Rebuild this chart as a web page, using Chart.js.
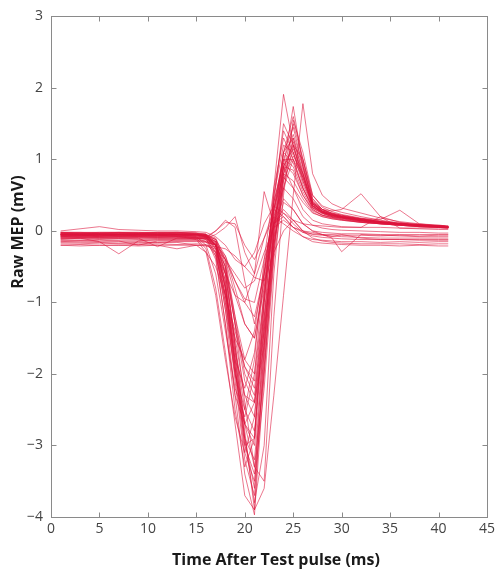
<!DOCTYPE html>
<html>
<head>
<meta charset="utf-8">
<script src="https://cdn.jsdelivr.net/npm/chart.js@4/dist/chart.umd.min.js"></script>
<style>
  html, body { margin: 0; padding: 0; background: #fff; }
  #wrap { width: 499px; height: 571px; }
</style>
</head>
<body>
<div id="wrap"><canvas id="c" width="499" height="571"></canvas></div>
<script>
// Sample times (ms)
const times = [1,3,5,7,9,11,13,15,16,17,18,19,20,21,22,23,24,25,26,27,28,29,30,32,34,36,38,40,41];

const xTicks = [0,5,10,15,20,25,30,35,40,45];
const yTicks = [-4,-3,-2,-1,0,1,2,3];
const xTitle = "Time After Test pulse (ms)";
const yTitle = "Raw MEP (mV)";

// Individual MEP traces (mV), one value per sample time
const trace01 = [-0.06,-0.05,-0.06,-0.06,-0.05,-0.06,-0.06,-0.1,-0.25,-0.8,-1.7,-2.7,-3.7,-3.9,-1.6,0.2,1.1,1.3,0.8,0.35,0.25,0.2,0.18,0.14,0.11,0.09,0.07,0.06,0.05];
const trace02 = [-0.04,-0.04,-0.05,-0.04,-0.04,-0.05,-0.04,-0.05,-0.07,-0.25,-1.1,-2.3,-3.4,-3.97,-2.0,-0.1,1.0,1.35,0.95,0.4,0.27,0.22,0.19,0.15,0.12,0.1,0.08,0.06,0.06];
const trace03 = [-0.08,-0.07,-0.08,-0.08,-0.08,-0.08,-0.08,-0.08,-0.1,-0.2,-0.6,-1.6,-2.8,-3.9,-3.6,-2.3,-0.9,0.5,1.78,0.8,0.5,0.38,0.32,0.25,0.18,0.13,0.1,0.07,0.06];
const trace04 = [-0.05,-0.05,-0.04,-0.05,-0.05,-0.05,-0.05,-0.05,-0.06,-0.15,-0.7,-1.9,-3.0,-2.9,-1.0,0.6,1.91,1.2,0.7,0.35,0.26,0.22,0.2,0.16,0.12,0.1,0.08,0.07,0.06];
const trace05 = [-0.03,-0.03,-0.04,-0.03,-0.03,-0.03,-0.04,-0.04,-0.05,-0.12,-0.5,-1.6,-2.7,-3.3,-2.0,-0.3,0.9,1.74,0.9,0.4,0.28,0.24,0.2,0.16,0.13,0.1,0.08,0.06,0.05];
const trace06 = [-0.05,-0.05,-0.05,-0.05,-0.06,-0.05,-0.05,-0.05,-0.07,-0.2,-0.9,-2.1,-3.2,-3.7,-1.8,0.0,1.1,1.6,1.0,0.45,0.3,0.24,0.21,0.17,0.13,0.1,0.08,0.07,0.06];
const trace07 = [-0.02,-0.02,-0.03,-0.02,-0.02,-0.03,-0.02,-0.03,-0.04,-0.2,-1.0,-2.0,-2.5,-1.8,-0.4,0.6,1.3,1.0,0.6,0.32,0.25,0.2,0.18,0.14,0.11,0.09,0.07,0.06,0.05];
const trace08 = [-0.06,-0.06,-0.06,-0.07,-0.06,-0.06,-0.06,-0.07,-0.08,-0.15,-0.6,-1.6,-2.5,-2.8,-1.5,0.0,0.9,1.15,0.8,0.38,0.28,0.23,0.2,0.15,0.12,0.1,0.08,0.06,0.05];
const trace09 = [-0.03,-0.04,-0.03,-0.03,-0.04,-0.03,-0.03,-0.04,-0.05,-0.1,-0.4,-1.2,-2.0,-2.3,-1.3,-0.1,0.8,1.1,0.75,0.35,0.26,0.22,0.19,0.15,0.12,0.1,0.08,0.06,0.05];
const trace10 = [-0.07,-0.07,-0.07,-0.06,-0.07,-0.07,-0.07,-0.07,-0.09,-0.25,-0.9,-1.9,-2.9,-3.2,-1.7,-0.2,0.8,1.25,0.85,0.4,0.3,0.25,0.22,0.17,0.13,0.1,0.08,0.07,0.06];
const trace11 = [-0.05,-0.05,-0.05,-0.05,-0.05,-0.05,-0.05,-0.08,-0.2,-0.6,-1.4,-2.2,-2.6,-2.0,-0.6,0.4,1.0,0.9,0.55,0.3,0.22,0.19,0.17,0.13,0.1,0.08,0.07,0.05,0.05];
const trace12 = [-0.04,-0.05,-0.04,-0.04,-0.04,-0.04,-0.05,-0.05,-0.06,-0.18,-0.75,-1.8,-2.7,-3.0,-1.6,0.1,1.1,1.45,0.9,0.42,0.3,0.24,0.21,0.16,0.13,0.1,0.08,0.07,0.06];
const trace13 = [-0.1,-0.1,-0.1,-0.1,-0.1,-0.1,-0.1,-0.1,-0.12,-0.2,-0.5,-1.3,-2.4,-3.3,-3.5,-1.2,0.5,1.55,1.1,0.5,0.33,0.27,0.23,0.18,0.14,0.11,0.09,0.08,0.07];
const trace14 = [-0.08,-0.08,-0.09,-0.08,-0.08,-0.09,-0.08,-0.09,-0.1,-0.2,-0.55,-1.3,-1.9,-2.1,-1.0,0.1,0.9,0.85,0.5,0.28,0.22,0.18,0.16,0.12,0.1,0.08,0.06,0.05,0.04];
const trace15 = [-0.02,-0.03,-0.02,-0.02,-0.03,-0.02,-0.02,-0.03,-0.1,-0.4,-1.3,-2.3,-2.7,-2.4,-0.8,0.5,1.2,1.1,0.7,0.36,0.27,0.22,0.19,0.15,0.12,0.09,0.07,0.06,0.05];
const trace16 = [-0.06,-0.06,-0.07,-0.06,-0.06,-0.06,-0.07,-0.06,-0.08,-0.2,-0.8,-1.9,-3.0,-3.4,-1.9,-0.3,0.7,1.3,0.9,0.4,0.3,0.28,0.3,0.52,0.2,0.12,0.09,0.07,0.06];
const trace17 = [-0.09,-0.09,-0.08,-0.09,-0.09,-0.09,-0.09,-0.1,-0.15,-0.35,-0.9,-1.5,-1.8,-1.4,-0.5,0.3,0.8,0.7,0.45,0.26,0.2,0.17,0.15,0.12,0.1,0.08,0.06,0.05,0.04];
const trace18 = [-0.05,-0.06,-0.05,-0.05,-0.05,-0.06,-0.05,-0.06,-0.07,-0.2,-0.8,-1.8,-2.9,-3.6,-1.3,0.4,1.5,1.2,0.75,0.38,0.28,0.23,0.2,0.16,0.12,0.1,0.08,0.06,0.05];
const trace19 = [-0.04,-0.04,-0.04,-0.05,-0.04,-0.04,-0.04,-0.05,-0.06,-0.12,-0.45,-1.3,-2.1,-2.4,-1.4,-0.2,0.7,1.05,0.8,0.38,0.28,0.23,0.2,0.17,0.16,0.29,0.1,0.08,0.07];
const trace20 = [-0.07,-0.07,-0.07,-0.07,-0.07,-0.07,-0.07,-0.12,-0.3,-0.9,-1.8,-2.6,-3.1,-2.6,-0.9,0.3,1.0,1.0,0.6,0.32,0.24,0.2,0.18,0.14,0.11,0.09,0.07,0.06,0.05];
const trace21 = [-0.15,-0.14,-0.15,-0.15,-0.15,-0.16,-0.15,-0.15,-0.16,-0.2,-0.35,-0.7,-1.0,-1.2,-0.6,0.1,0.3,0.15,0.0,-0.05,-0.06,-0.07,-0.08,-0.09,-0.1,-0.1,-0.1,-0.1,-0.1];
const trace22 = [-0.2,-0.19,-0.2,-0.2,-0.19,-0.2,-0.2,-0.2,-0.21,-0.25,-0.4,-0.6,-0.8,-0.7,-0.3,0.05,0.15,0.05,-0.08,-0.15,-0.17,-0.18,-0.19,-0.2,-0.2,-0.21,-0.2,-0.21,-0.21];
const trace23 = [-0.12,-0.1,-0.15,-0.32,-0.14,-0.12,-0.12,-0.12,-0.1,-0.05,0.05,0.2,-0.3,-0.6,0.55,0.1,0.2,0.05,0.0,-0.02,-0.05,-0.08,-0.05,-0.1,-0.12,-0.12,-0.13,-0.13,-0.13];
const trace24 = [-0.1,-0.09,-0.1,-0.1,-0.1,-0.22,-0.1,-0.1,-0.11,-0.15,-0.4,-0.9,-1.3,-1.5,-0.7,0.1,0.45,0.3,0.1,0.0,-0.05,-0.1,-0.29,-0.05,-0.06,-0.07,-0.08,-0.08,-0.08];
const trace25 = [-0.18,-0.18,-0.17,-0.18,-0.18,-0.18,-0.19,-0.18,-0.19,-0.3,-0.6,-0.9,-1.0,-0.6,-0.1,0.2,0.1,0.0,-0.08,-0.12,-0.13,-0.14,-0.15,-0.15,-0.16,-0.15,-0.16,-0.15,-0.15];
const trace26 = [-0.13,-0.13,-0.12,-0.13,-0.13,-0.13,-0.13,-0.13,-0.14,-0.2,-0.5,-1.2,-1.8,-2.0,-0.9,0.2,0.6,0.45,0.2,0.08,0.04,0.02,0.01,0.0,-0.01,-0.02,-0.02,-0.03,-0.03];
const trace27 = [0.0,0.03,0.06,0.02,0.01,0.0,0.0,-0.01,-0.02,-0.08,-0.2,-0.4,-0.5,-0.3,0.1,0.35,0.25,0.15,0.1,0.08,0.07,0.06,0.05,0.05,0.05,0.04,0.04,0.04,0.04];
const trace28 = [-0.16,-0.16,-0.16,-0.17,-0.16,-0.16,-0.16,-0.2,-0.3,-0.5,-0.9,-1.4,-1.9,-2.2,-1.2,-0.1,0.4,0.3,0.1,0.0,-0.02,-0.03,-0.04,-0.04,-0.05,-0.05,-0.05,-0.05,-0.05];
const trace29 = [-0.11,-0.11,-0.11,-0.11,-0.12,-0.11,-0.11,-0.11,-0.1,0.0,0.15,0.05,-0.7,-1.3,-0.6,0.3,0.9,0.6,0.3,0.15,0.1,0.08,0.06,0.05,0.2,0.04,0.03,0.02,0.02];
const trace30 = [-0.2,-0.21,-0.2,-0.2,-0.21,-0.2,-0.25,-0.2,-0.2,-0.22,-0.25,-0.35,-0.5,-0.65,-0.7,-0.3,0.0,0.15,0.0,-0.1,-0.14,-0.16,-0.17,-0.18,-0.18,-0.18,-0.19,-0.18,-0.18];
const trace31 = [-0.05,-0.05,-0.05,-0.05,-0.05,-0.05,-0.05,-0.05,-0.06,-0.15,-0.6,-1.5,-2.3,-2.6,-1.4,0.0,0.9,1.2,0.8,0.38,0.27,0.22,0.2,0.15,0.12,0.09,0.07,0.06,0.05];
const trace32 = [-0.04,-0.04,-0.04,-0.04,-0.04,-0.04,-0.04,-0.05,-0.08,-0.35,-1.3,-2.5,-3.3,-2.9,-1.0,0.5,1.4,1.1,0.65,0.34,0.26,0.21,0.19,0.15,0.12,0.09,0.07,0.06,0.05];
const trace33 = [-0.06,-0.06,-0.06,-0.06,-0.06,-0.06,-0.06,-0.06,-0.07,-0.12,-0.35,-0.8,-1.3,-1.5,-0.8,0.1,0.75,0.6,0.4,0.25,0.2,0.17,0.15,0.12,0.1,0.08,0.06,0.05,0.05];
const trace34 = [-0.07,-0.07,-0.06,-0.07,-0.07,-0.07,-0.07,-0.07,-0.09,-0.2,-0.7,-1.7,-2.9,-3.8,-3.0,-0.6,0.8,1.5,1.0,0.45,0.3,0.25,0.22,0.17,0.13,0.1,0.08,0.07,0.06];
const trace35 = [-0.03,-0.03,-0.03,-0.03,-0.03,-0.03,-0.03,-0.04,-0.06,-0.3,-1.1,-2.0,-2.7,-2.9,-1.2,0.3,1.1,0.95,0.6,0.33,0.25,0.21,0.18,0.14,0.11,0.09,0.07,0.06,0.05];
const trace36 = [-0.08,-0.08,-0.08,-0.08,-0.08,-0.08,-0.08,-0.09,-0.12,-0.3,-1.0,-1.8,-2.2,-1.7,-0.6,0.4,0.95,0.8,0.5,0.3,0.22,0.19,0.16,0.13,0.1,0.08,0.06,0.05,0.04];
const trace37 = [-0.05,-0.05,-0.05,-0.05,-0.05,-0.05,-0.05,-0.05,-0.07,-0.18,-0.8,-2.0,-3.1,-3.5,-2.2,-0.4,0.6,1.2,1.0,0.5,0.35,0.3,0.26,0.2,0.15,0.11,0.09,0.07,0.06];
const trace38 = [-0.14,-0.14,-0.13,-0.14,-0.2,-0.14,-0.14,-0.14,-0.15,-0.2,-0.4,-0.7,-0.95,-1.0,-0.4,0.1,0.25,0.1,-0.02,-0.07,-0.09,-0.1,-0.11,-0.12,-0.12,-0.12,-0.12,-0.12,-0.12];
const trace39 = [-0.02,-0.02,-0.02,-0.02,-0.02,-0.02,-0.02,-0.03,-0.05,-0.2,-0.8,-1.7,-2.3,-2.4,-1.6,-0.2,0.6,1.0,0.75,0.36,0.26,0.22,0.19,0.15,0.12,0.09,0.07,0.06,0.05];
const trace40 = [-0.1,-0.1,-0.09,-0.1,-0.1,-0.1,-0.1,-0.1,-0.08,0.0,0.12,0.1,-0.2,-0.4,-0.1,0.3,0.2,0.05,-0.02,-0.04,-0.05,-0.05,-0.06,-0.06,-0.07,-0.06,-0.07,-0.06,-0.06];

const traces = [trace01,trace02,trace03,trace04,trace05,trace06,trace07,trace08,trace09,trace10,
                trace11,trace12,trace13,trace14,trace15,trace16,trace17,trace18,trace19,trace20,
                trace21,trace22,trace23,trace24,trace25,trace26,trace27,trace28,trace29,trace30,
                trace31,trace32,trace33,trace34,trace35,trace36,trace37,trace38,trace39,trace40];

const datasets = traces.map((tr, i) => ({
  label: 'trial ' + (i + 1),
  data: tr.map((v, k) => ({ x: times[k], y: v })),
  borderColor: 'rgba(220, 20, 60, 0.58)',
  borderWidth: 1,
  pointRadius: 0,
  tension: 0,
  fill: false
}));

const TICK_FONT = { family: "'Open Sans', 'DejaVu Sans', sans-serif", size: 14 };

const framePlugin = {
  id: 'frame',
  afterDraw(chart) {
    const { ctx, chartArea: a, scales } = chart;
    ctx.save();
    ctx.strokeStyle = '#8a8a8a';
    ctx.lineWidth = 1;
    const L = Math.round(a.left) + 0.5, R = Math.round(a.right) + 0.5;
    const T = Math.round(a.top) + 0.5, B = Math.round(a.bottom) + 0.5;
    ctx.strokeRect(L, T, R - L, B - T);
    const tl = 5;
    ctx.beginPath();
    xTicks.forEach(v => {
      const px = Math.round(scales.x.getPixelForValue(v)) + 0.5;
      ctx.moveTo(px, B); ctx.lineTo(px, B - tl);
      ctx.moveTo(px, T); ctx.lineTo(px, T + tl);
    });
    yTicks.forEach(v => {
      const py = Math.round(scales.y.getPixelForValue(v)) + 0.5;
      ctx.moveTo(L, py); ctx.lineTo(L + tl, py);
      ctx.moveTo(R, py); ctx.lineTo(R - tl, py);
    });
    ctx.stroke();

    ctx.fillStyle = '#1a1a1a';
    ctx.font = "bold 16px 'Open Sans', 'DejaVu Sans', sans-serif";
    ctx.textAlign = 'center';
    ctx.textBaseline = 'middle';
    ctx.fillText(xTitle, 276, 560);
    ctx.save();
    ctx.translate(18, 232);
    ctx.rotate(-Math.PI / 2);
    ctx.fillText(yTitle, 0, 0);
    ctx.restore();
    ctx.restore();
  }
};

new Chart(document.getElementById('c'), {
  type: 'line',
  data: { datasets },
  options: {
    responsive: false,
    animation: false,
    events: [],
    layout: { padding: { top: 16, right: 10, left: 0, bottom: 0 } },
    plugins: { legend: { display: false }, tooltip: { enabled: false }, title: { display: false } },
    scales: {
      x: {
        type: 'linear', min: 0, max: 45,
        afterBuildTicks: s => { s.ticks = xTicks.map(v => ({ value: v })); },
        afterFit: s => { s.height = 54; },
        grid: { display: false, drawTicks: false },
        border: { display: false },
        ticks: { color: '#444', font: TICK_FONT, padding: 4, maxRotation: 0, autoSkip: false }
      },
      y: {
        type: 'linear', min: -4, max: 3,
        afterBuildTicks: s => { s.ticks = yTicks.map(v => ({ value: v })); },
        afterFit: s => { s.width = 51; },
        grid: { display: false, drawTicks: false },
        border: { display: false },
        ticks: { color: '#444', font: TICK_FONT, padding: 8,
                 callback: v => String(v).replace('-', '\u2212') }
      }
    }
  },
  plugins: [framePlugin]
});
</script>
</body>
</html>
